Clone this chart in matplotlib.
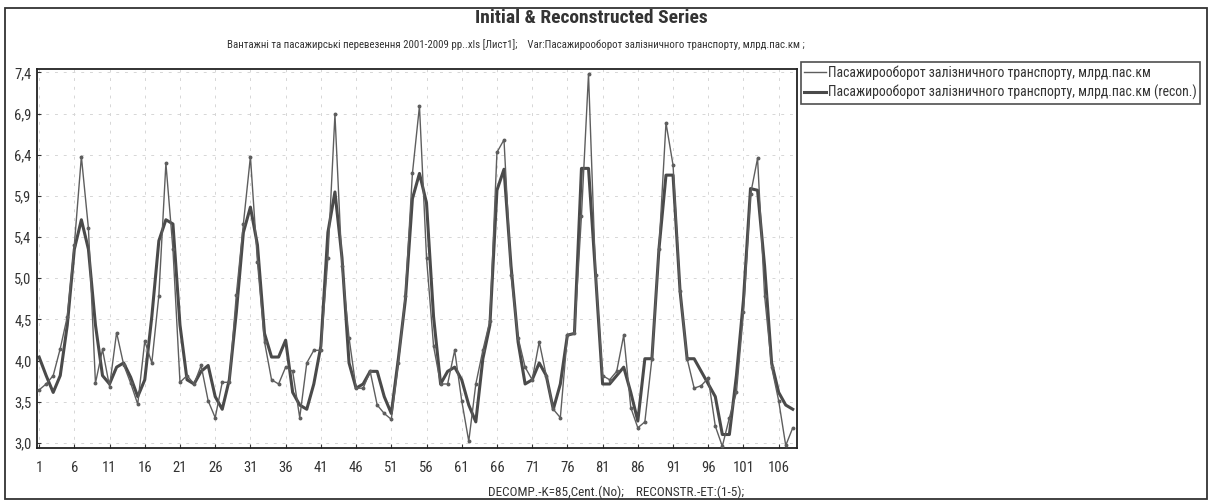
import numpy as np
import matplotlib
matplotlib.use("Agg")
import matplotlib.pyplot as plt
from matplotlib import font_manager
from matplotlib.patches import Rectangle
from matplotlib.lines import Line2D
from matplotlib.ticker import FuncFormatter

# pick a narrow sans font if there is one
names = set(f.name for f in font_manager.fontManager.ttflist)
family = 'DejaVu Sans'
for cand in ['Liberation Sans Narrow', 'DejaVu Sans Condensed', 'Roboto Condensed', 'Liberation Sans']:
    if cand in names:
        family = cand
        break
plt.rcParams['font.family'] = [family, 'DejaVu Sans']

# дані (місяці 2001-2009)
months = list(range(1, 109))
initial = [3.63, 3.70, 3.80, 4.12, 4.50, 5.35, 6.40, 5.55, 3.71, 4.11, 3.67, 4.31,
           3.93, 3.71, 3.46, 4.21, 3.95, 4.75, 6.32, 5.30, 3.72, 3.80, 3.70, 3.92,
           3.50, 3.30, 3.72, 3.72, 4.76, 5.60, 6.40, 5.15, 4.20, 3.75, 3.70, 3.90,
           3.85, 3.30, 3.95, 4.10, 4.10, 5.20, 6.90, 5.10, 4.25, 3.65, 3.65, 3.85,
           3.45, 3.35, 3.28, 3.95, 4.75, 6.20, 7.00, 5.20, 4.15, 3.70, 3.70, 4.10,
           3.50, 3.02, 3.70, 4.10, 4.45, 6.45, 6.60, 5.00, 4.25, 3.90, 3.75, 4.20,
           3.80, 3.40, 3.30, 4.28, 4.30, 5.70, 7.38, 5.00, 3.80, 3.75, 3.85, 4.28,
           3.42, 3.18, 3.25, 4.00, 5.30, 6.80, 6.30, 4.80, 4.00, 3.65, 3.68, 3.77,
           3.20, 2.96, 3.30, 3.60, 4.55, 5.95, 6.38, 4.75, 3.90, 3.50, 2.97, 3.18]
recon = [4.02, 3.80, 3.60, 3.80, 4.40, 5.30, 5.65, 5.30, 4.40, 3.80, 3.70, 3.90,
         3.95, 3.78, 3.55, 3.75, 4.50, 5.40, 5.65, 5.60, 4.40, 3.75, 3.70, 3.85,
         3.92, 3.55, 3.40, 3.75, 4.55, 5.50, 5.80, 5.35, 4.30, 4.02, 4.02, 4.22,
         3.60, 3.45, 3.40, 3.70, 4.15, 5.50, 5.98, 5.20, 3.95, 3.65, 3.70, 3.85,
         3.85, 3.55, 3.35, 4.00, 4.70, 5.90, 6.20, 5.85, 4.50, 3.70, 3.85, 3.90,
         3.75, 3.45, 3.25, 4.00, 4.40, 6.00, 6.25, 5.10, 4.20, 3.70, 3.75, 3.95,
         3.80, 3.40, 3.70, 4.28, 4.30, 6.26, 6.26, 5.00, 3.70, 3.70, 3.80, 3.90,
         3.60, 3.26, 4.00, 4.00, 5.30, 6.18, 6.18, 4.80, 4.00, 4.00, 3.85, 3.70,
         3.55, 3.10, 3.10, 3.80, 4.70, 6.02, 6.00, 5.10, 3.95, 3.60, 3.45, 3.40]

x_ticks = list(range(1, 107, 5))
y_ticks = [3.0, 3.489, 3.978, 4.467, 4.956, 5.444, 5.933, 6.422, 6.911, 7.4]

title = 'Initial & Reconstructed Series'
subtitle = ('Вантажні та пасажирські перевезення 2001-2009 рр..xls [Лист1];    '
            'Var:Пасажирооборот залізничного транспорту, млрд.пас.км ;')
footer = 'DECOMP.-K=85,Cent.(No);    RECONSTR.-ET:(1-5);'
label_init = 'Пасажирооборот залізничного транспорту, млрд.пас.км'
label_recon = 'Пасажирооборот залізничного транспорту, млрд.пас.км (recon.)'

W, H = 1213, 504
fig = plt.figure(figsize=(W / 100, H / 100), dpi=100)
ax = fig.add_axes([37 / W, 1 - 448 / H, (797 - 37) / W, (448 - 69) / H])

ax.plot(months, initial, color='#5e5e5e', lw=1.0, marker='o', ms=1.8,
        mfc='#5e5e5e', mec='#5e5e5e', label=label_init, zorder=3)
ax.plot(months, recon, color='#4a4a4a', lw=2.2, label=label_recon, zorder=2)

ax.set_xlim(0.7, 108.6)
ax.set_ylim(2.94, 7.44)
ax.set_xticks(x_ticks)
ax.set_yticks(y_ticks)
ax.yaxis.set_major_formatter(FuncFormatter(lambda v, p: f'{v:.1f}'.replace('.', ',')))
ax.tick_params(direction='in', length=3, width=0.8, labelsize=10.5, colors='#333333', pad=9)
ax.tick_params(axis='y', pad=4)
ax.grid(True, color='#d6d6d6', lw=0.7, ls=(0, (3, 6)))
for s in ax.spines.values():
    s.set_linewidth(1.3)
    s.set_color('#222222')

fig.text(591 / W, 1 - 18 / H, title, ha='center', va='center', fontsize=14,
         fontweight='bold', color='#333333')
fig.text(516 / W, 1 - 45 / H, subtitle, ha='center', va='center', fontsize=7.8, color='#333333')
fig.text(616 / W, 1 - 492 / H, footer, ha='center', va='center', fontsize=9.5, color='#333333')

# legend box in figure pixels
leg = fig.legend(handles=[Line2D([], [], color='#5e5e5e', lw=1.0),
                          Line2D([], [], color='#4a4a4a', lw=2.2)],
                 labels=[label_init, label_recon],
                 loc='upper left', bbox_to_anchor=(801 / W, 1 - 62 / H),
                 fontsize=9.9, frameon=True, fancybox=False, handlelength=1.6,
                 handletextpad=0.1, borderpad=0.25, borderaxespad=0, labelspacing=0.35)
leg.get_frame().set_edgecolor('#222222')
leg.get_frame().set_linewidth(1.2)
for t in leg.get_texts():
    t.set_color('#333333')

# outer border
fig.patches.append(Rectangle((5 / W, 1 - 499 / H), (1207 - 5) / W, (499 - 8) / H,
                             transform=fig.transFigure, fill=False, lw=1.3,
                             edgecolor='#333333'))

fig.savefig('out.png', dpi=100)
